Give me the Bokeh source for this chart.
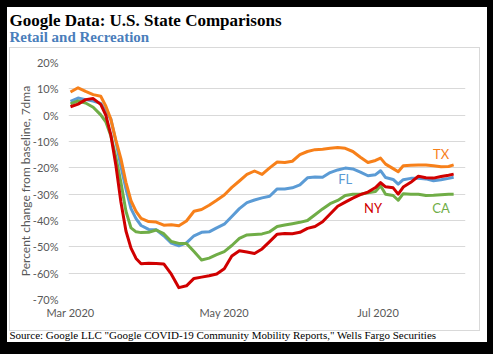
import pandas as pd
from bokeh.plotting import figure
from bokeh.models import (Range1d, FixedTicker, PrintfTickFormatter, DatetimeTickFormatter,
                          Label, Title)
from bokeh.embed import file_html
from bokeh.resources import INLINE

# ---------------- data ----------------
dates = ["2020-03-01", "2020-03-04", "2020-03-07", "2020-03-10", "2020-03-13", "2020-03-15",
         "2020-03-17", "2020-03-19", "2020-03-21", "2020-03-23", "2020-03-25", "2020-03-27",
         "2020-03-29", "2020-04-01", "2020-04-04", "2020-04-07", "2020-04-10", "2020-04-13",
         "2020-04-16", "2020-04-19", "2020-04-22", "2020-04-25", "2020-04-28", "2020-05-01",
         "2020-05-04", "2020-05-07", "2020-05-10", "2020-05-13", "2020-05-16", "2020-05-19",
         "2020-05-22", "2020-05-25", "2020-05-28", "2020-05-31", "2020-06-03", "2020-06-06",
         "2020-06-09", "2020-06-12", "2020-06-15", "2020-06-18", "2020-06-21", "2020-06-24",
         "2020-06-27", "2020-06-30", "2020-07-02", "2020-07-04", "2020-07-07", "2020-07-09",
         "2020-07-11", "2020-07-14", "2020-07-17", "2020-07-20", "2020-07-23", "2020-07-26",
         "2020-07-29", "2020-07-31"]

tx = [8.8, 10.4, 9.0, 7.8, 7.2, 3.5, -1.5, -9.5, -16.5, -25.5, -32.5, -36.5,
      -39.2, -40.4, -40.6, -41.8, -41.6, -42.0, -40.2, -36.5, -35.8, -34.2, -32.3, -30.3,
      -27.4, -25.0, -22.5, -21.2, -22.5, -20.0, -17.8, -18.0, -17.5, -15.0, -13.8, -13.1,
      -12.9, -12.6, -12.3, -12.6, -13.8, -16.0, -18.0, -17.2, -16.3, -18.6, -20.3, -21.5,
      -19.2, -19.0, -18.9, -18.9, -19.2, -19.6, -19.5, -18.9]

fl = [5.2, 6.5, 5.9, 5.4, 4.5, 1.6, -1.5, -10.0, -19.4, -28.0, -35.5, -39.3,
      -41.9, -43.4, -43.5, -45.8, -48.6, -49.6, -48.5, -45.8, -44.5, -44.3, -42.8, -41.4,
      -38.5, -35.5, -33.2, -32.2, -31.4, -30.8, -28.0, -28.0, -27.6, -26.5, -23.8, -23.5,
      -23.6, -21.8, -20.8, -20.1, -20.4, -21.6, -23.0, -22.6, -21.1, -23.7, -24.4, -26.2,
      -24.5, -24.0, -24.0, -24.2, -24.9, -24.5, -24.0, -23.6]

ca = [4.3, 5.4, 4.6, 3.0, 0.1, -2.5, -7.8, -16.0, -25.5, -36.5, -42.8, -44.3,
      -44.6, -44.5, -43.6, -45.0, -48.0, -48.7, -48.7, -51.8, -55.0, -54.3, -53.0, -51.8,
      -49.5, -46.8, -45.5, -45.3, -45.1, -44.3, -42.3, -41.7, -41.2, -40.7, -40.0, -37.8,
      -35.6, -33.6, -32.4, -30.5, -30.0, -30.0, -29.5, -29.0, -26.8, -30.0, -30.5, -32.3,
      -29.8, -30.0, -30.0, -30.5, -30.4, -30.2, -30.0, -30.0]

ny = [3.2, 4.2, 5.9, 6.3, 4.1, 0.0, -7.5, -19.0, -33.0, -44.0, -50.5, -54.4,
      -56.4, -56.2, -56.3, -56.5, -60.4, -65.5, -64.8, -62.0, -61.5, -61.0, -60.3, -58.3,
      -53.5, -51.5, -52.0, -52.5, -50.8, -48.0, -45.2, -44.9, -45.0, -44.5, -43.0, -42.3,
      -40.5, -37.5, -34.6, -33.0, -31.5, -30.2, -29.2, -27.5, -25.6, -27.2, -27.6, -30.0,
      -27.3, -25.5, -23.2, -23.8, -23.9, -23.3, -22.8, -22.4]

x_tick_dates = ["2020-03-01", "2020-05-01", "2020-07-01"]
y_ticks = [20, 10, 0, -10, -20, -30, -40, -50, -60, -70]

series_names = ["TX", "FL", "NY", "CA"]
label_dates = ["2020-07-26", "2020-06-18", "2020-06-29", "2020-07-26"]
label_values = [-14.6, -24.3, -35.1, -35.1]

title_text = "Google Data: U.S. State Comparisons"
subtitle_text = "Retail and Recreation"
source_text = 'Source: Google LLC "Google COVID-19 Community Mobility Reports," Wells Fargo Securities'
y_label = "Percent change from baseline, 7dma"

# ---------------- figure ----------------
W, H = 493, 354
FL_, FR_, FT_, FB_ = 68, 465, 62, 299   # frame edges in canvas pixels
xs = pd.to_datetime(dates)
start = pd.Timestamp("2020-03-01") - pd.Timedelta(hours=19)
end = pd.Timestamp("2020-03-01") + pd.Timedelta(days=156.7)
YMIN, YMAX = -70, 20

p = figure(width=W, height=H, x_axis_type="datetime", output_backend="svg",
           toolbar_location=None,
           x_range=Range1d(start, end), y_range=Range1d(YMIN, YMAX),
           min_border_left=FL_, min_border_right=W - FR_, min_border_top=FT_,
           min_border_bottom=H - FB_)
# black page frame and the light grey chart box, painted behind a transparent border area
g = "linear-gradient(#d9d9d9,#d9d9d9)"
p.styles = {
    "background-color": "white",
    "box-shadow": "inset 7px 7px 0 0 #000000, inset -6px -12px 0 0 #000000",
    "background-image": ", ".join([g] * 4),
    "background-size": "471px 1px, 471px 1px, 1px 283px, 1px 283px",
    "background-position": "9px 47px, 9px 330px, 9px 47px, 479px 47px",
    "background-repeat": "no-repeat",
}
p.title.visible = False
p.outline_line_color = None
p.background_fill_color = "white"
p.border_fill_color = None

# axes
p.xaxis.ticker = FixedTicker(ticks=[pd.Timestamp(d).value // 10**6 for d in x_tick_dates])
fmt = "%b %Y"
p.xaxis.formatter = DatetimeTickFormatter(days=fmt, months=fmt, years=fmt, hours=fmt,
                                          minutes=fmt, seconds=fmt, milliseconds=fmt,
                                          microseconds=fmt, hourmin=fmt, minsec=fmt)
p.yaxis.ticker = FixedTicker(ticks=y_ticks)
p.yaxis.formatter = PrintfTickFormatter(format="%d%%")
for ax in (p.xaxis[0], p.yaxis[0]):
    ax.axis_line_color = None
    ax.major_tick_line_color = None
    ax.minor_tick_line_color = None
    ax.major_label_text_font = "Lato"
    ax.major_label_text_font_size = "11px"
    ax.major_label_text_color = "#595959"
p.xaxis.major_label_standoff = 0
p.yaxis.major_label_standoff = 4
p.yaxis.axis_label = y_label
p.yaxis.axis_label_text_font = "Lato"
p.yaxis.axis_label_text_font_size = "12px"
p.yaxis.axis_label_text_font_style = "normal"
p.yaxis.axis_label_text_color = "#595959"
p.yaxis.axis_label_standoff = -3

p.xgrid.grid_line_color = None
p.ygrid.ticker = FixedTicker(ticks=y_ticks)
p.ygrid.grid_line_color = "#d9d9d9"
p.ygrid.grid_line_width = 1

# lines
colors = {"TX": "#F7801A", "FL": "#5B9BD5", "CA": "#70AD47", "NY": "#D00000"}
data = {"TX": tx, "FL": fl, "CA": ca, "NY": ny}
for name in ["FL", "TX", "CA", "NY"]:
    p.line(xs, data[name], line_color=colors[name], line_width=3, line_join="round")

for name, d, v in zip(series_names, label_dates, label_values):
    p.add_layout(Label(x=pd.Timestamp(d), y=v, text=name, text_align="center",
                       text_baseline="middle", text_font="Lato", text_font_size="13px",
                       text_color=colors[name]))

# titles: stacked outward from the frame (spacer, subtitle, main title)
p.add_layout(Title(text=" ", text_font_size="1px", standoff=14.9), "above")
p.add_layout(Title(text=subtitle_text, align="left", offset=9 - FL_, standoff=0,
                   text_font="Liberation Serif", text_font_style="bold",
                   text_font_size="15px", text_color="#4A7EBB"), "above")
p.add_layout(Title(text=title_text, align="left", offset=9 - FL_, standoff=-6.5,
                   text_font="Liberation Serif", text_font_style="bold",
                   text_font_size="17px", text_color="black"), "above")
p.add_layout(Title(text=source_text, align="left", offset=9 - FL_, standoff=10.6,
                   text_font="Liberation Serif", text_font_style="normal",
                   text_font_size="11px", text_color="black"), "below")

open("out.html", "w").write(file_html(p, INLINE))
